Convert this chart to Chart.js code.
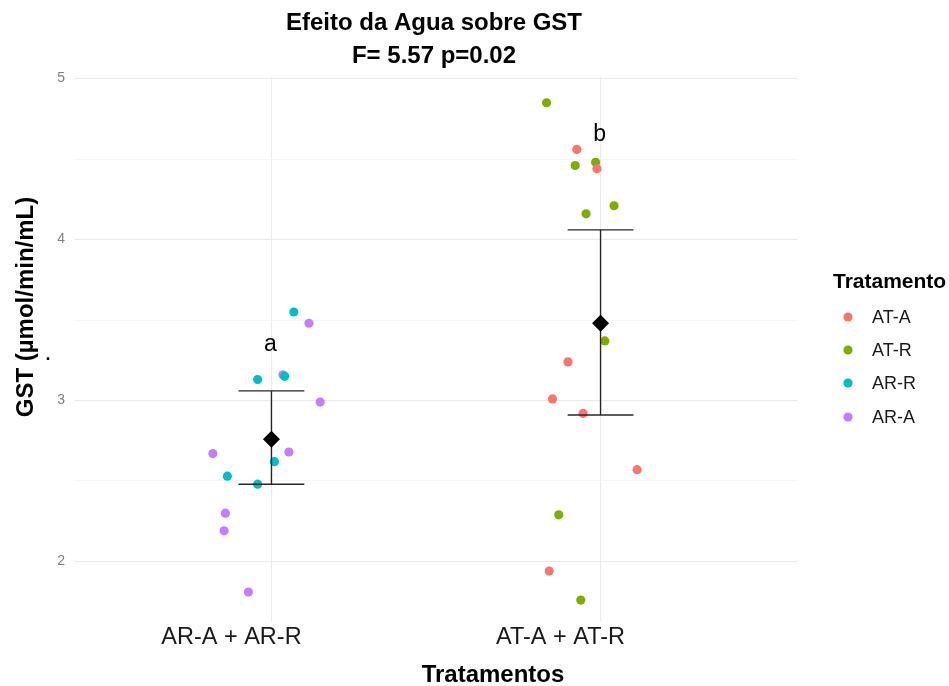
<!DOCTYPE html>
<html lang="pt">
<head>
<meta charset="utf-8">
<title>Efeito da Agua sobre GST</title>
<script src="https://cdn.jsdelivr.net/npm/chart.js@4.4.1/dist/chart.umd.min.js"></script>
<style>
  html, body { margin: 0; padding: 0; background: #ffffff; }
  #wrap { width: 949px; height: 686px; position: relative; }
</style>
</head>
<body>
<div id="wrap"><canvas id="chart" width="949" height="686"></canvas></div>
<script>
// ---- data ----
const categories = ['AR-A + AR-R', 'AT-A + AT-R'];
const categoryPos = [1, 2];
const titleLines = ['Efeito da Agua sobre GST', 'F= 5.57 p=0.02'];
const xTitle = 'Tratamentos';
const yTitle = 'GST (\u00b5mol/min/mL)';
const legendTitle = 'Tratamento';
const yTicks = [2, 2.5, 3, 3.5, 4, 4.5, 5];

// series names, the category each belongs to, jitter offsets and values
const seriesNames = ['AT-A', 'AT-R', 'AR-R', 'AR-A'];
const seriesCategory = [2, 2, 1, 1];

const atAJitter = [-0.072, -0.011, -0.099, -0.146, -0.053, 0.111, -0.156];
const atAValues = [4.56, 4.44, 3.24, 3.01, 2.92, 2.57, 1.94];

const atRJitter = [-0.164, -0.077, -0.015, 0.041, -0.044, 0.013, -0.127, -0.060];
const atRValues = [4.85, 4.46, 4.48, 4.21, 4.16, 3.37, 2.29, 1.76];

const arRJitter = [0.068, 0.040, -0.042, 0.009, -0.134, -0.042];
const arRValues = [3.55, 3.15, 3.13, 2.62, 2.53, 2.48];

const arAJitter = [0.114, 0.035, 0.148, -0.178, 0.053, -0.140, -0.144, -0.070];
const arAValues = [3.48, 3.16, 2.99, 2.67, 2.68, 2.30, 2.19, 1.81];

// group means and interval limits
const groupMeans = [2.76, 3.48];
const errLow = [2.48, 2.91];
const errHigh = [3.06, 4.06];

// compact letter display
const groupLetters = ['a', 'b'];
const letterY = [3.31, 4.61];

// ---- styling ----
const FONT = '"Liberation Sans", Arial, Helvetica, sans-serif';
const seriesColors = ['#F8766D', '#7CAE00', '#00BFC4', '#C77CFF'];
const capHalf = 0.1;

const jitters = [atAJitter, atRJitter, arRJitter, arAJitter];
const values = [atAValues, atRValues, arRValues, arAValues];

const pointSets = seriesNames.map((name, i) => ({
  type: 'scatter',
  label: name,
  data: values[i].map((v, k) => ({ x: seriesCategory[i] + jitters[i][k], y: v })),
  backgroundColor: seriesColors[i],
  borderWidth: 0,
  pointRadius: 4.6,
  pointHoverRadius: 4.6,
  order: 3
}));

const errorSets = [];
categoryPos.forEach((c, i) => {
  const segs = [
    [{ x: c, y: errLow[i] }, { x: c, y: errHigh[i] }],
    [{ x: c - capHalf, y: errHigh[i] }, { x: c + capHalf, y: errHigh[i] }],
    [{ x: c - capHalf, y: errLow[i] }, { x: c + capHalf, y: errLow[i] }]
  ];
  segs.forEach(seg => errorSets.push({
    type: 'line',
    data: seg,
    borderColor: '#262626',
    borderWidth: 1.4,
    pointRadius: 0,
    fill: false,
    order: 2
  }));
});

const meanSet = {
  type: 'scatter',
  label: 'mean',
  data: categoryPos.map((c, i) => ({ x: c, y: groupMeans[i] })),
  pointStyle: 'rectRot',
  pointRadius: 8.5,
  pointHoverRadius: 8.5,
  backgroundColor: '#000000',
  borderWidth: 0,
  order: 1
};

// titles, group letters, axis titles and legend drawn on the canvas
const decor = {
  id: 'decor',
  afterDraw(chart) {
    const { ctx, chartArea, scales } = chart;
    const x = scales.x, y = scales.y;
    ctx.save();
    ctx.fillStyle = '#000000';
    ctx.textAlign = 'center';
    ctx.textBaseline = 'alphabetic';
    const cx = (chartArea.left + chartArea.right) / 2;
    ctx.font = 'bold 24px ' + FONT;
    ctx.fillText(titleLines[0], cx - 2, 30);
    ctx.fillText(titleLines[1], cx - 2, 63);

    ctx.font = '23px ' + FONT;
    groupLetters.forEach((t, i) => {
      ctx.fillText(t, x.getPixelForValue(categoryPos[i]) - 1, y.getPixelForValue(letterY[i]));
    });

    ctx.font = 'bold 24px ' + FONT;
    ctx.fillText(xTitle, 493, 682);
    ctx.save();
    ctx.translate(33, 307);
    ctx.rotate(-Math.PI / 2);
    ctx.fillText(yTitle, 0, 0);
    ctx.restore();
    ctx.font = 'bold 18px ' + FONT;
    ctx.fillText('.', 48, 360);

    // legend
    ctx.textAlign = 'left';
    ctx.font = 'bold 21px ' + FONT;
    ctx.fillText(legendTitle, 833, 288);
    const rows = [317, 350, 383, 417];
    ctx.font = '18px ' + FONT;
    ctx.textBaseline = 'middle';
    seriesNames.forEach((name, i) => {
      ctx.beginPath();
      ctx.fillStyle = seriesColors[i];
      ctx.arc(848, rows[i], 4.6, 0, Math.PI * 2);
      ctx.fill();
      ctx.fillStyle = '#1a1a1a';
      ctx.fillText(name, 872, rows[i] + 1);
    });
    ctx.restore();
  }
};

new Chart(document.getElementById('chart'), {
  data: { datasets: [...pointSets, ...errorSets, meanSet] },
  options: {
    responsive: false,
    animation: false,
    layout: { padding: { top: 77, right: 151, bottom: 0, left: 0 } },
    plugins: {
      legend: { display: false },
      title: { display: false },
      tooltip: { enabled: false }
    },
    scales: {
      x: {
        type: 'linear',
        min: 0.4,
        max: 2.6,
        afterBuildTicks: s => { s.ticks = categoryPos.map(v => ({ value: v })); },
        afterFit: s => { s.height = 65; },
        border: { display: false },
        grid: { color: '#ebebeb', lineWidth: 1.1, drawTicks: false },
        ticks: {
          callback: v => categories[categoryPos.indexOf(v)] ?? '',
          font: { family: FONT, size: 23.5 },
          color: '#1a1a1a',
          padding: 2,
          labelOffset: -40,
          maxRotation: 0,
          autoSkip: false
        }
      },
      y: {
        type: 'linear',
        min: 1.63,
        max: 5.01,
        afterBuildTicks: s => { s.ticks = yTicks.map(v => ({ value: v })); },
        afterFit: s => { s.width = 74; },
        border: { display: false },
        grid: {
          drawTicks: false,
          color: c => Number.isInteger(c.tick && c.tick.value) ? '#e9e9e9' : '#f3f3f3',
          lineWidth: c => Number.isInteger(c.tick && c.tick.value) ? 1.1 : 0.8
        },
        ticks: {
          callback: v => Number.isInteger(v) ? String(v) : '',
          font: { family: FONT, size: 14 },
          color: '#7f7f7f',
          padding: 9,
          autoSkip: false
        }
      }
    }
  },
  plugins: [decor]
});
</script>
</body>
</html>
